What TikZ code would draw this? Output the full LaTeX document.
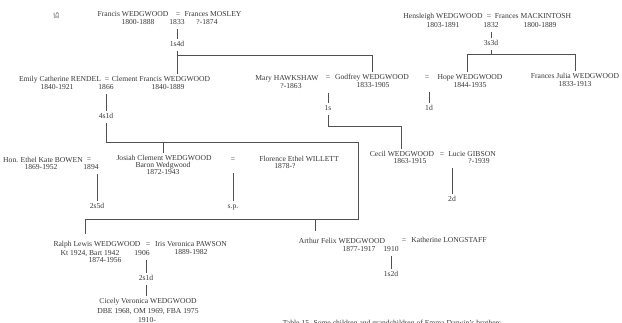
\documentclass[tikz,border=0pt]{standalone}
\usepackage{fontspec}
\setmainfont{Liberation Serif}
\definecolor{ink}{RGB}{55,55,55}
\definecolor{wire}{RGB}{80,80,80}
\begin{document}
\begin{tikzpicture}[x=1pt,y=-1pt,
  every node/.style={inner sep=0pt, font=\fontsize{7.6}{8}\selectfont, text=ink, text height=5pt, text depth=1.2pt},
  ln/.style={draw=wire, line width=0.55pt},
  conn/.style={ln, shorten <=3pt, shorten >=3pt}]
\fill[white] (0,0) rectangle (622,322);
\useasboundingbox (0,0) rectangle (622,322);

% page number
\node[rotate=90] (pg) at (57,16) {15};

% Francis WEDGWOOD = Frances MOSLEY
\node (fw)  at (133,15) {Francis WEDGWOOD};
\node (eq1) at (178,15) {=};
\node (fm)  at (213,15) {Frances MOSLEY};
\node (fwd) at (138,23) {1800-1888};
\node (m1)  at (177,23) {1833};
\node (fmd) at (207,23) {?-1874};
\node (c1)  at (177,45) {1s4d};

% Hensleigh WEDGWOOD = Frances MACKINTOSH
\node (hwg) at (443,17) {Hensleigh WEDGWOOD};
\node (eq5) at (489,17) {=};
\node (fmk) at (533,17) {Frances MACKINTOSH};
\node (hwgd) at (443,26) {1803-1891};
\node (m5)  at (491,26) {1832};
\node (fmkd) at (540,26) {1800-1889};
\node (c5)  at (491,44) {3s3d};

% row 2
\node (ecr)  at (60,80) {Emily Catherine RENDEL};
\node (eq2)  at (107,80) {=};
\node (cfw)  at (161,80) {Clement Francis WEDGWOOD};
\node (ecrd) at (57,88) {1840-1921};
\node (m2)   at (106,88) {1866};
\node (cfwd) at (168,88) {1840-1889};
\node (c2)   at (106,117) {4s1d};

\node (mh)  at (287,79) {Mary HAWKSHAW};
\node (mhd) at (291,87) {?-1863};
\node (eq3) at (328,78) {=};
\node (gw)  at (372,78) {Godfrey WEDGWOOD};
\node (gwd) at (373,86) {1833-1905};
\node (eq4) at (427,78) {=};
\node (hw)  at (470,78) {Hope WEDGWOOD};
\node (hwd) at (470,86) {1844-1935};
\node (fjw) at (575,77) {Frances Julia WEDGWOOD};
\node (fjwd) at (575,85) {1833-1913};
\node (c3)  at (328,109) {1s};
\node (c4)  at (429,109) {1d};

% Cecil
\node (cw)  at (402,155) {Cecil WEDGWOOD};
\node (eq6) at (442,155) {=};
\node (lg)  at (472,155) {Lucie GIBSON};
\node (cwd) at (410,162) {1863-1915};
\node (lgd) at (479,162) {?-1939};
\node (c6)  at (452,200) {2d};

% Josiah row
\node (ekb)  at (43,161) {Hon. Ethel Kate BOWEN};
\node (eq7)  at (89,160) {=};
\node (ekbd) at (41,168) {1869-1952};
\node (m3)   at (91,168) {1894};
\node (c7)   at (97,207) {2s5d};
\node (jcw)  at (164,159) {Josiah Clement WEDGWOOD};
\node (jcwb) at (163,166) {Baron Wedgwood};
\node (jcwd) at (163,173) {1872-1943};
\node (eq8)  at (233,160) {=};
\node (few)  at (299,160) {Florence Ethel WILLETT};
\node (fewd) at (285,167) {1878-?};
\node (c8)   at (233,207) {s.p.};

% Ralph row
\node (rlw)  at (97,245) {Ralph Lewis WEDGWOOD};
\node (rlwk) at (90,254) {Kt 1924, Bart 1942};
\node (rlwd) at (105,261) {1874-1956};
\node (eq9)  at (148,245) {=};
\node (ivp)  at (191,245) {Iris Veronica PAWSON};
\node (ivpd) at (191,253) {1889-1982};
\node (m9)   at (142,254) {1906};
\node (c9)   at (146,279) {2s1d};
\node (cvw)  at (148,302) {Cicely Veronica WEDGWOOD};
\node (cvwh) at (148,312) {DBE 1968, OM 1969, FBA 1975};
\node (cvwd) at (147,321) {1910-};

% Arthur row
\node (afw)  at (342,242) {Arthur Felix WEDGWOOD};
\node (eq10) at (404,241) {=};
\node (kl)   at (449,241) {Katherine LONGSTAFF};
\node (afwd) at (359,250) {1877-1917};
\node (m10)  at (391,250) {1910};
\node (c10)  at (391,275) {1s2d};

% caption (cut by the lower edge)
\node (cap) at (392,324) {Table 15. Some children and grandchildren of Emma Darwin's brothers};

% junction points
\coordinate (j1) at (372,55);
\coordinate (j5a) at (467,54.5);
\coordinate (j5b) at (575,54.5);
\coordinate (j3a) at (328,126);
\coordinate (j3b) at (401,126);
\coordinate (j2a) at (106,142);
\coordinate (j2b) at (358,142);
\coordinate (j2c) at (358,219);
\coordinate (j2d) at (85,219);
\coordinate (j2e) at (163,142);
\coordinate (j2f) at (315,219);

% connectors
\draw[conn] (m1) -- (c1);
\draw[conn] (c1) -- (c1 |- cfw.north);
\draw[ln, shorten >=3pt] (c1 |- j1) -- (j1) -- (j1 |- gw.north);

\draw[conn] (c5 |- m5.south) -- (c5);
\draw[ln, shorten <=3pt] (c5) -- (c5 |- j5a);
\draw[ln, shorten <=3pt, shorten >=3pt] (j5a |- hw.north) -- (j5a) -- (j5b) -- (j5b |- fjw.north);

\draw[conn] (c3 |- mhd.south) -- (c3);
\draw[ln, shorten <=3pt, shorten >=3pt] (c3) -- (j3a) -- (j3b) -- (j3b |- cw.north);
\draw[conn] (c4 |- hwd.south) -- (c4);
\draw[conn] (c6 |- lgd.south) -- (c6);

\draw[conn] (m2) -- (c2);
\draw[ln, shorten <=3pt, shorten >=8pt] (c2) -- (j2a) -- (j2b) -- (j2c) -- (j2d) -- (j2d |- rlw.north);
\draw[ln, shorten >=3pt] (j2e) -- (j2e |- jcw.north);
\draw[ln, shorten >=8pt] (j2f) -- (j2f |- afw.north);

\draw[conn] (c7 |- m3.south) -- (c7);
\draw[conn] (c8 |- fewd.south) -- (c8);

\draw[conn] (c9 |- m9.south) -- (c9);
\draw[conn] (c9) -- (c9 |- cvw.north);
\draw[conn] (c10 |- m10.south) -- (c10);
\end{tikzpicture}
\end{document}
